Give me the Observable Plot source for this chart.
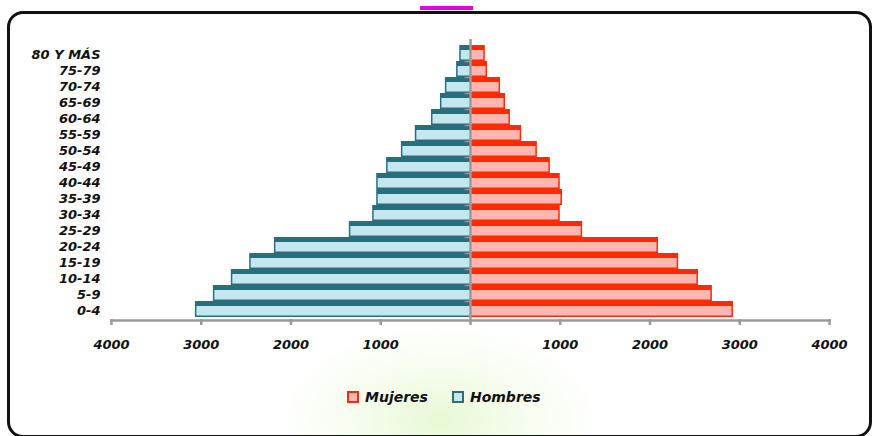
<!DOCTYPE html>
<html>
<head>
<meta charset="utf-8">
<script src="https://cdn.jsdelivr.net/npm/d3@7"></script>
<script src="https://cdn.jsdelivr.net/npm/@observablehq/plot@0.6"></script>
<style>
  html, body { margin: 0; padding: 0; width: 874px; height: 436px; overflow: hidden; background: #fff; }
  body { position: relative; font-family: "DejaVu Sans", sans-serif; }
  #bg { position: absolute; left: 0; top: 0; width: 874px; height: 436px;
        background: radial-gradient(ellipse 160px 95px at 440px 420px, rgba(228,248,205,0.85), rgba(238,250,224,0.45) 60%, rgba(255,255,255,0) 100%); }
  #frame { position: absolute; left: 7px; top: 11px; width: 859px; height: 421px; border: 3px solid #111;
           border-radius: 16px; box-sizing: content-box; }
  #mark { position: absolute; left: 420px; top: 6px; width: 53px; height: 4px; background: #e000e0; }
  #chart { position: absolute; left: 0; top: 0; }
  #legend { position: absolute; left: 347px; top: 389px; display: flex; align-items: center;
            font: italic bold 14px "DejaVu Sans", sans-serif; color: #111; }
  .sw { width: 8px; height: 8px; border: 2px solid; margin-right: 6px; }
</style>
</head>
<body>
<div id="bg"></div>
<div id="frame"></div>
<div id="mark"></div>
<div id="chart"></div>
<div id="legend">
  <div class="sw" style="background:#ffb5b3;border-color:#ff2a00"></div><span style="margin-right:24px">Mujeres</span>
  <div class="sw" style="background:#c4e6ee;border-color:#2b6e7b"></div><span>Hombres</span>
</div>
<script>
const ages = ["80 Y MÁS","75-79","70-74","65-69","60-64","55-59","50-54","45-49","40-44","35-39","30-34","25-29","20-24","15-19","10-14","5-9","0-4"];
const hombres = [120,155,280,335,435,615,770,935,1045,1045,1090,1350,2185,2460,2665,2865,3065];
const mujeres = [165,190,335,390,445,570,745,890,1000,1025,1000,1250,2095,2320,2540,2695,2930];
const xTicks = [-4000,-3000,-2000,-1000,0,1000,2000,3000,4000];

const men = ages.map((a, i) => ({age: a, v: -hombres[i]}));
const women = ages.map((a, i) => ({age: a, v: mujeres[i]}));

const gray = "#9a9a9a";
const chart = Plot.plot({
  width: 874,
  height: 375,
  marginLeft: 111,
  marginRight: 45,
  marginTop: 42,
  marginBottom: 56,
  style: { background: "transparent", fontFamily: "DejaVu Sans", fontWeight: "bold", fontStyle: "italic", fontSize: "13px", color: "#111" },
  x: { domain: [-4000, 4000] },
  y: { domain: ages, padding: 0.03 },
  marks: [
    Plot.barX(men, { y: "age", x1: 0, x2: "v", fill: "#2b6e7b" }),
    Plot.barX(men, { y: "age", x1: 0, x2: "v", fill: "#c4e6ee", insetTop: 5, insetBottom: 1.5, insetLeft: 1.5 }),
    Plot.barX(women, { y: "age", x1: 0, x2: "v", fill: "#ff2a00" }),
    Plot.barX(women, { y: "age", x1: 0, x2: "v", fill: "#ffb5b3", insetTop: 5, insetBottom: 1.5, insetRight: 1.5 }),
    Plot.ruleX([0], { stroke: gray, strokeWidth: 2.5, insetTop: -3 }),
    Plot.ruleY(ages.slice(0, -1), { y: d => d, x1: -60, x2: 0, dy: 8, stroke: gray, strokeWidth: 1.5 }),
    Plot.axisY({ anchor: "left", tickSize: 0, tickPadding: 11, label: null, dy: 1.5, fontSize: 13 }),
    Plot.frame({ anchor: "bottom", stroke: gray, strokeWidth: 2.5, dy: 1 }),
    Plot.axisX({ ticks: xTicks, tickFormat: d => d === 0 ? "" : String(Math.abs(d)), tickSize: 6, tickPadding: 14,
                 stroke: gray, strokeWidth: 2.5, label: null, fontSize: 13 })
  ]
});
document.getElementById("chart").appendChild(chart);
</script>
</body>
</html>
